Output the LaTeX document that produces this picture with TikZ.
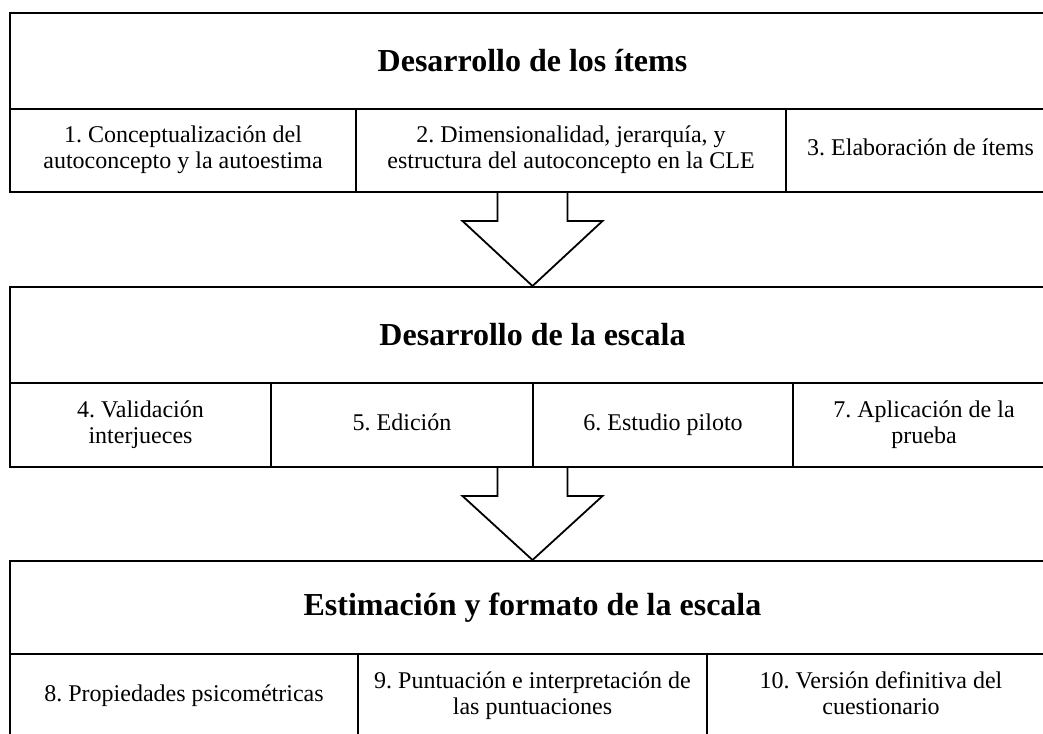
\documentclass[tikz,border=0pt]{standalone}
\usepackage{fontspec}
\setmainfont{Liberation Serif}
\usetikzlibrary{calc}
\frenchspacing

\begin{document}
\begin{tikzpicture}[x=0.5pt,y=-0.5pt,
    header/.style={draw, line width=1pt, minimum width=522.5pt, inner sep=0pt,
        font=\fontsize{16}{20}\selectfont\bfseries},
    cell/.style={draw, line width=1pt, minimum height=42pt, inner sep=0pt,
        align=center, font=\fontsize{12}{13}\selectfont},
    bigarrow/.style={draw, line width=0.9pt, fill=white, line join=miter}]
    \useasboundingbox (0,0) rectangle (1043,733);

    % Desarrollo de los items
    \node[header, minimum height=48pt] (h1) at (532.5,61) {Desarrollo de los ítems};
    \foreach \n/\x/\w/\t in {c1/183/173/{1. Conceptualización del\\autoconcepto y la autoestima},
                             c2/571/215/{2. Dimensionalidad, jerarquía, y\\estructura del autoconcepto en la CLE},
                             c3/920.5/134.5/{3. Elaboración de ítems}} {
        \node[cell, minimum width=\w pt, minimum height=41.5pt] (\n) at (\x,150.5) {\strut\t\strut};
    }

    % Desarrollo de la escala
    \node[header, minimum height=48pt] (h2) at (532.5,335) {Desarrollo de la escala};
    \foreach \n/\x/\w/\t in {c4/140.5/130.5/{4. Validación\\interjueces},
                             c5/402/131/{5. Edición},
                             c6/663/130/{6. Estudio piloto},
                             c7/924/131/{7. Aplicación de la\\prueba}} {
        \node[cell, minimum width=\w pt] (\n) at (\x,425) {\strut\t\strut};
    }

    % Estimacion y formato
    \node[header, minimum height=46.5pt] (h3) at (532.5,607.5) {Estimación y formato de la escala};
    \foreach \n/\x/\w/\t in {c8/184/174/{8. Propiedades psicométricas},
                             c9/532.5/174.5/{9. Puntuación e interpretación de\\las puntuaciones},
                             c10/881/174/{10. Versión definitiva del\\cuestionario}} {
        \node[cell, minimum width=\w pt] (\n) at (\x,696) {\strut\t\strut};
    }

    % Block arrows
    \foreach \a/\b in {c1/h2, c4/h3} {
        \draw[bigarrow] ($(\b.north |- \a.south)+(-35,0)$) -- ++(0,28) -- ++(-35,0)
            -- (\b.north) -- ($(\b.north |- \a.south)+(70,28)$) -- ++(-35,0) -- ++(0,-28);
    }
\end{tikzpicture}
\end{document}
